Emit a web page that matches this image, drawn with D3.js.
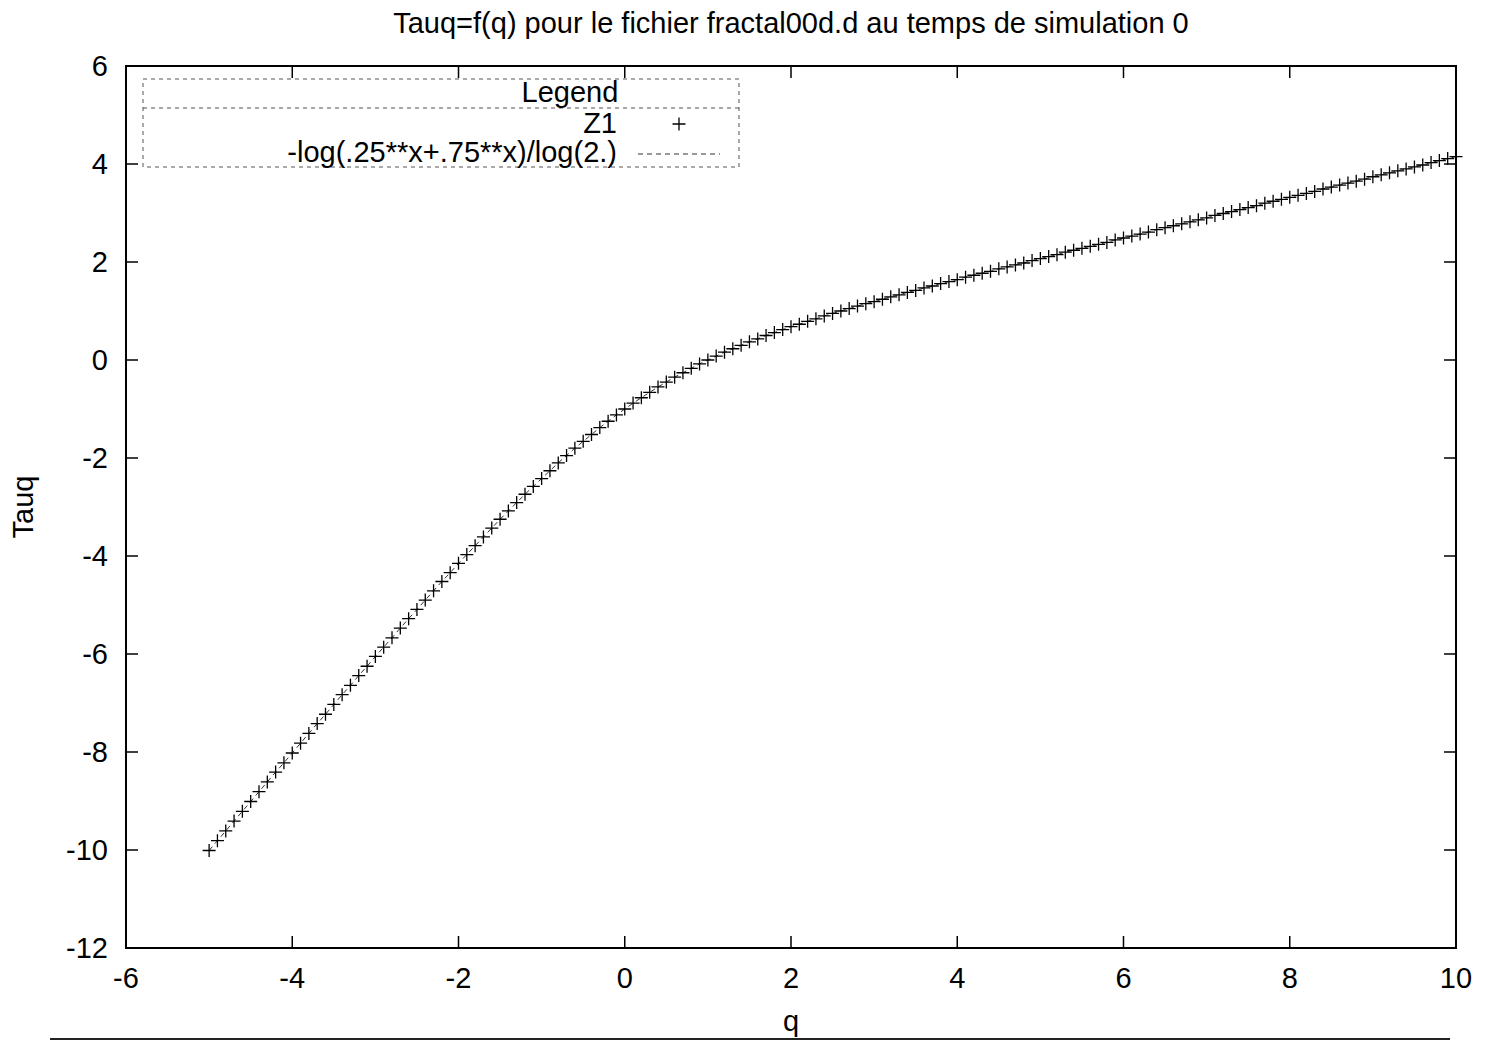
<!DOCTYPE html>
<html>
<head>
<meta charset="utf-8">
<script src="https://cdn.jsdelivr.net/npm/d3@7"></script>
<style>
    body { margin: 0; background: #fff; }
    text { font-family: "Liberation Sans", Arial, sans-serif; fill: #000; }
</style>
</head>
<body>
<div id="chart"></div>
<script>
// data
const titleText = "Tauq=f(q) pour le fichier fractal00d.d au temps de simulation 0";
const xTicks = [-6, -4, -2, 0, 2, 4, 6, 8, 10];
const yTicks = [-12, -10, -8, -6, -4, -2, 0, 2, 4, 6];
const legendLabels = ["Z1", "-log(.25**x+.75**x)/log(2.)"];

const qValues = [
    -5.0, -4.9, -4.8, -4.7, -4.6, -4.5, -4.4, -4.3, -4.2, -4.1,
    -4.0, -3.9, -3.8, -3.7, -3.6, -3.5, -3.4, -3.3, -3.2, -3.1,
    -3.0, -2.9, -2.8, -2.7, -2.6, -2.5, -2.4, -2.3, -2.2, -2.1,
    -2.0, -1.9, -1.8, -1.7, -1.6, -1.5, -1.4, -1.3, -1.2, -1.1,
    -1.0, -0.9, -0.8, -0.7, -0.6, -0.5, -0.4, -0.3, -0.2, -0.1,
    0.0, 0.1, 0.2, 0.3, 0.4, 0.5, 0.6, 0.7, 0.8, 0.9,
    1.0, 1.1, 1.2, 1.3, 1.4, 1.5, 1.6, 1.7, 1.8, 1.9,
    2.0, 2.1, 2.2, 2.3, 2.4, 2.5, 2.6, 2.7, 2.8, 2.9,
    3.0, 3.1, 3.2, 3.3, 3.4, 3.5, 3.6, 3.7, 3.8, 3.9,
    4.0, 4.1, 4.2, 4.3, 4.4, 4.5, 4.6, 4.7, 4.8, 4.9,
    5.0, 5.1, 5.2, 5.3, 5.4, 5.5, 5.6, 5.7, 5.8, 5.9,
    6.0, 6.1, 6.2, 6.3, 6.4, 6.5, 6.6, 6.7, 6.8, 6.9,
    7.0, 7.1, 7.2, 7.3, 7.4, 7.5, 7.6, 7.7, 7.8, 7.9,
    8.0, 8.1, 8.2, 8.3, 8.4, 8.5, 8.6, 8.7, 8.8, 8.9,
    9.0, 9.1, 9.2, 9.3, 9.4, 9.5, 9.6, 9.7, 9.8, 9.9,
    10.0
];
const tauValues = [
    -10.01, -9.81, -9.61, -9.41, -9.21, -9.01, -8.81, -8.61, -8.41, -8.22,
    -8.02, -7.82, -7.62, -7.42, -7.23, -7.03, -6.83, -6.64, -6.44, -6.25,
    -6.05, -5.86, -5.67, -5.47, -5.28, -5.09, -4.90, -4.71, -4.52, -4.34,
    -4.15, -3.97, -3.79, -3.61, -3.43, -3.25, -3.08, -2.91, -2.74, -2.58,
    -2.42, -2.26, -2.10, -1.95, -1.80, -1.66, -1.52, -1.38, -1.25, -1.12,
    -1.00, -0.88, -0.77, -0.66, -0.55, -0.45, -0.35, -0.26, -0.17, -0.08,
    0.00, 0.08, 0.16, 0.23, 0.30, 0.37, 0.43, 0.50, 0.56, 0.62,
    0.68, 0.73, 0.79, 0.84, 0.90, 0.95, 1.00, 1.05, 1.10, 1.15,
    1.19, 1.24, 1.29, 1.33, 1.38, 1.42, 1.47, 1.51, 1.56, 1.60,
    1.64, 1.69, 1.73, 1.77, 1.81, 1.86, 1.90, 1.94, 1.98, 2.03,
    2.07, 2.11, 2.15, 2.20, 2.24, 2.28, 2.32, 2.36, 2.40, 2.45,
    2.49, 2.53, 2.57, 2.61, 2.66, 2.70, 2.74, 2.78, 2.82, 2.86,
    2.90, 2.95, 2.99, 3.03, 3.07, 3.11, 3.15, 3.20, 3.24, 3.28,
    3.32, 3.36, 3.40, 3.44, 3.49, 3.53, 3.57, 3.61, 3.65, 3.69,
    3.74, 3.78, 3.82, 3.86, 3.90, 3.94, 3.98, 4.03, 4.07, 4.11,
    4.15
];

class TauPlotD3 {
    margin = {top: 66, right: 38, bottom: 95, left: 126};
    size = {width: 1494, height: 1043};
    fontSize = 29;
    crossSize = 6.5;
    tickLen = 12;
    width;
    height;
    svg;
    plotG;
    xScale;
    yScale;

    constructor(el){
        this.el = el;
    };

    create = function () {
        this.width = this.size.width - this.margin.left - this.margin.right;
        this.height = this.size.height - this.margin.top - this.margin.bottom;

        this.svg = d3.select(this.el).append("svg")
            .attr("width", this.size.width)
            .attr("height", this.size.height)
        ;
        this.plotG = this.svg.append("g")
            .attr("transform", "translate(" + this.margin.left + "," + this.margin.top + ")")
        ;

        this.xScale = d3.scaleLinear().domain([-6, 10]).range([0, this.width]);
        this.yScale = d3.scaleLinear().domain([-12, 6]).range([this.height, 0]);
    }

    renderAxes = function () {
        const g = this.plotG;
        // inward ticks on all four sides (gnuplot mirror)
        const tickG = g.append("g").attr("stroke", "#000").attr("stroke-width", 1.5);
        tickG.selectAll(".xTickB").data(xTicks).join("line")
            .attr("x1", d => this.xScale(d)).attr("x2", d => this.xScale(d))
            .attr("y1", this.height).attr("y2", this.height - this.tickLen)
        ;
        tickG.selectAll(".xTickT").data(xTicks).join("line")
            .attr("x1", d => this.xScale(d)).attr("x2", d => this.xScale(d))
            .attr("y1", 0).attr("y2", this.tickLen)
        ;
        tickG.selectAll(".yTickL").data(yTicks).join("line")
            .attr("x1", 0).attr("x2", this.tickLen)
            .attr("y1", d => this.yScale(d)).attr("y2", d => this.yScale(d))
        ;
        tickG.selectAll(".yTickR").data(yTicks).join("line")
            .attr("x1", this.width).attr("x2", this.width - this.tickLen)
            .attr("y1", d => this.yScale(d)).attr("y2", d => this.yScale(d))
        ;

        // frame
        g.append("rect")
            .attr("width", this.width).attr("height", this.height)
            .attr("fill", "none").attr("stroke", "#000").attr("stroke-width", 2)
        ;

        g.selectAll(".xLabel").data(xTicks).join("text")
            .attr("x", d => this.xScale(d))
            .attr("y", this.height + 40)
            .attr("text-anchor", "middle")
            .attr("font-size", this.fontSize)
            .text(d => d)
        ;
        g.selectAll(".yLabel").data(yTicks).join("text")
            .attr("x", -18)
            .attr("y", d => this.yScale(d) + 10)
            .attr("text-anchor", "end")
            .attr("font-size", this.fontSize)
            .text(d => d)
        ;

        // titles
        this.svg.append("text")
            .attr("x", this.margin.left + this.width / 2)
            .attr("y", 33)
            .attr("text-anchor", "middle")
            .attr("font-size", this.fontSize)
            .text(titleText)
        ;
        this.svg.append("text")
            .attr("transform", "translate(33," + (this.margin.top + this.height / 2) + ") rotate(-90)")
            .attr("text-anchor", "middle")
            .attr("font-size", this.fontSize)
            .text("Tauq")
        ;
        this.svg.append("text")
            .attr("x", this.margin.left + this.width / 2)
            .attr("y", 1031)
            .attr("text-anchor", "middle")
            .attr("font-size", this.fontSize)
            .text("q")
        ;
        // rule under the x label
        this.svg.append("line")
            .attr("x1", 50).attr("x2", 1450)
            .attr("y1", 1039).attr("y2", 1039)
            .attr("stroke", "#222").attr("stroke-width", 2)
        ;
    }

    renderData = function () {
        const pts = qValues.map((q, i) => ({q: q, tau: tauValues[i]}));

        // dashed function curve
        const line = d3.line()
            .x(d => this.xScale(d.q))
            .y(d => this.yScale(d.tau))
        ;
        this.plotG.append("path")
            .datum(pts)
            .attr("d", line)
            .attr("fill", "none")
            .attr("stroke", "#333")
            .attr("stroke-width", 1)
            .attr("stroke-dasharray", "5,4")
        ;

        // Z1 crosses
        const s = this.crossSize;
        this.plotG.selectAll(".dotG")
            .data(pts)
            .join("path")
            .attr("class", "dotG")
            .attr("transform", d => "translate(" + this.xScale(d.q) + "," + this.yScale(d.tau) + ")")
            .attr("d", "M" + (-s) + ",0H" + s + "M0," + (-s) + "V" + s)
            .attr("stroke", "#000")
            .attr("stroke-width", 1.3)
            .attr("fill", "none")
        ;
    }

    renderLegend = function () {
        const lg = this.svg.append("g");
        const box = {x: 143, y: 79, w: 596, h: 88, sep: 108};
        lg.append("rect")
            .attr("x", box.x).attr("y", box.y)
            .attr("width", box.w).attr("height", box.h)
            .attr("fill", "#fff")
            .attr("stroke", "#555").attr("stroke-width", 1)
            .attr("stroke-dasharray", "4,4")
        ;
        lg.append("line")
            .attr("x1", box.x).attr("x2", box.x + box.w)
            .attr("y1", box.sep).attr("y2", box.sep)
            .attr("stroke", "#555").attr("stroke-width", 1)
            .attr("stroke-dasharray", "4,4")
        ;
        lg.append("text")
            .attr("x", 570).attr("y", 102)
            .attr("text-anchor", "middle")
            .attr("font-size", this.fontSize)
            .text("Legend")
        ;
        lg.selectAll(".legLabel").data(legendLabels).join("text")
            .attr("x", 617)
            .attr("y", (d, i) => 133 + i * 29)
            .attr("text-anchor", "end")
            .attr("font-size", this.fontSize)
            .text(d => d)
        ;
        const s = this.crossSize;
        lg.append("path")
            .attr("d", "M" + (679 - s) + ",124H" + (679 + s) + "M679," + (124 - s) + "V" + (124 + s))
            .attr("stroke", "#000").attr("stroke-width", 1.3)
        ;
        lg.append("line")
            .attr("x1", 638).attr("x2", 720)
            .attr("y1", 154).attr("y2", 154)
            .attr("stroke", "#333").attr("stroke-width", 1)
            .attr("stroke-dasharray", "5,4")
        ;
    }
}

const plot = new TauPlotD3(document.getElementById("chart"));
plot.create();
plot.renderData();
plot.renderAxes();
plot.renderLegend();
</script>
</body>
</html>
